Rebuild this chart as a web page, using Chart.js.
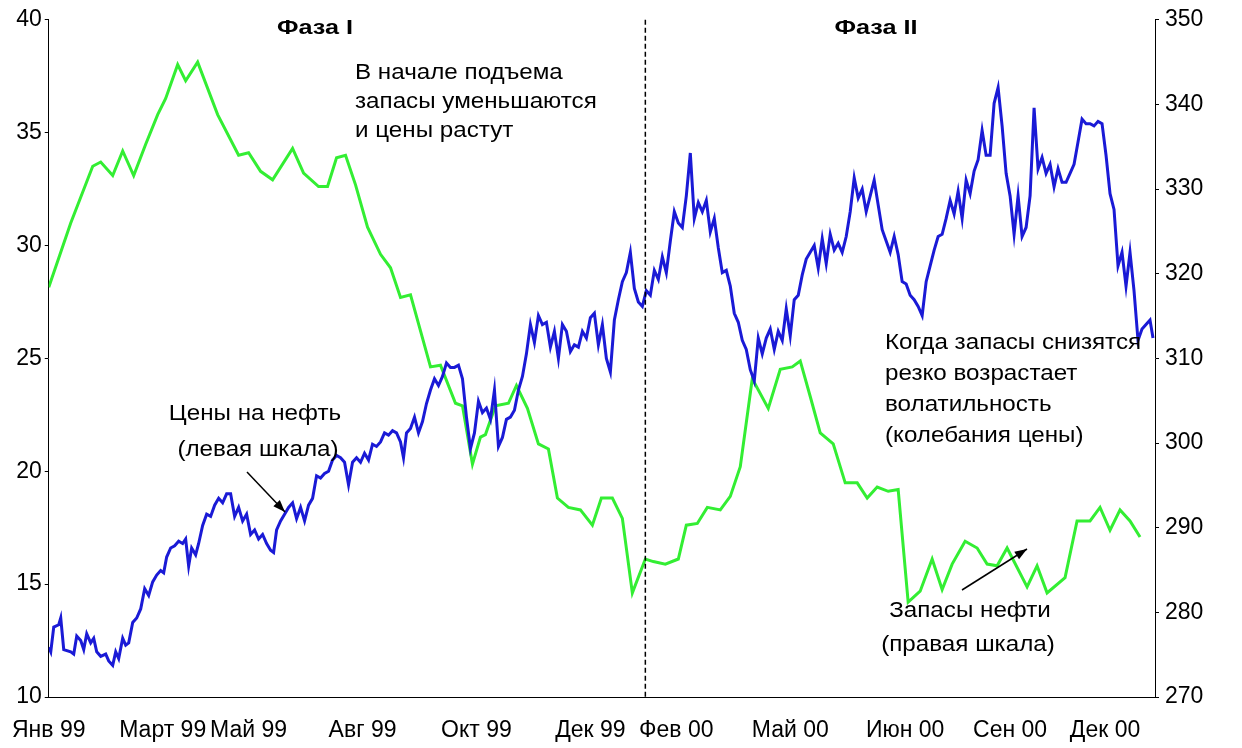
<!DOCTYPE html>
<html>
<head>
<meta charset="utf-8">
<script src="https://cdn.jsdelivr.net/npm/chart.js@4.4.0/dist/chart.umd.min.js"></script>
<style>
  html, body { margin: 0; padding: 0; background: #fff; }
  #wrap { width: 1242px; height: 748px; }
</style>
</head>
<body>
<div id="wrap"><canvas id="myChart"></canvas></div>
<script>
// time axis in trading-day steps (0 = Jan 99)
const tickPos = [0, 114, 200, 314, 428, 542, 628, 742, 857, 962, 1057];
const tickLabels = ["Янв 99", "Март 99", "Май 99", "Авг 99", "Окт 99", "Дек 99",
  "Фев 00", "Май 00", "Июн 00", "Сен 00", "Дек 00"];
const phaseSplit = 597;

// oil price, left scale
const priceT = [0,2,5,10,12,15,22,25,28,32,35,38,42,45,48,52,57,60,64,67,70,74,77,80,84,88,92,96,100,104,108,112,115,118,122,126,130,134,137,140,143,147,150,154,158,162,166,170,174,178,182,186,190,194,198,202,206,210,214,218,222,225,228,232,236,240,244,248,252,256,260,264,268,272,276,280,284,288,292,296,300,304,308,312,316,320,324,328,332,336,340,344,348,352,355,358,362,366,370,374,378,382,386,390,394,398,402,406,410,414,418,422,426,430,434,438,442,446,450,454,458,462,466,470,474,478,482,486,490,494,498,502,506,510,514,518,522,526,530,534,538,542,546,550,554,558,562,566,570,574,578,582,586,590,594,598,602,606,610,614,618,622,626,630,634,638,642,646,650,654,658,662,666,670,674,678,682,686,690,694,698,702,706,710,714,718,722,726,730,734,738,742,746,750,754,758,762,766,770,774,778,782,786,790,794,798,802,806,810,814,818,822,826,830,834,838,842,846,850,854,858,862,866,870,874,878,882,886,890,894,898,902,906,910,914,918,922,926,930,934,938,942,946,950,954,958,962,966,970,974,978,982,986,990,994,998,1002,1006,1010,1014,1018,1022,1026,1030,1034,1038,1042,1046,1050,1054,1058,1062,1066,1070,1074,1078,1082,1086,1090,1094,1098,1102,1105];
const priceVal = [12.2,12,13.1,13.2,13.5,12.1,12,11.9,12.7,12.5,12.1,12.8,12.4,12.6,12,11.8,11.9,11.6,11.4,12,11.7,12.6,12.3,12.4,13.3,13.5,13.9,14.8,14.5,15.1,15.4,15.6,15.5,16.2,16.6,16.7,16.9,16.8,17,15.8,16.6,16.3,16.8,17.6,18.1,18,18.5,18.8,18.6,19,19,18,18.4,17.8,18.1,17.2,17.4,17,17.2,16.8,16.5,16.4,17.4,17.8,18.1,18.4,18.6,17.9,18.4,17.8,18.5,18.8,19.8,19.7,19.9,20,20.5,20.7,20.6,20.4,19.4,20.4,20.6,20.4,20.8,20.5,21.2,21.1,21.3,21.7,21.6,21.8,21.7,21.3,20.6,21.7,21.9,22.4,21.7,22.2,23,23.6,24.1,23.8,24.2,24.8,24.6,24.6,24.7,24.1,22.4,21,21.7,23.1,22.6,22.8,22.3,23.6,21.1,21.5,22.3,22.4,22.7,23.6,24.2,25.2,26.5,25.7,26.9,26.5,26.6,25.5,26.2,25,26.5,26.2,25.3,25.6,25.5,26.2,25.9,26.8,27,25.6,26.5,25,24.4,26.7,27.6,28.4,28.8,29.7,28.1,27.5,27.3,28,27.8,28.9,28.5,29.5,28.8,30.2,31.5,31,30.8,32.2,34.1,31.2,31.9,31.5,32,30.6,31.2,29.9,28.8,28.9,28.2,27,26.6,25.8,25.4,24.5,24,25.9,25.2,25.9,26.3,25.4,26.2,25.8,27.2,26,27.6,27.8,28.7,29.4,29.7,30,29,30.3,29.2,30.5,29.8,30.1,29.7,30.4,31.5,33,32.1,32.5,31.5,32.2,32.9,31.8,30.7,30.2,29.7,30.4,29.6,28.4,28.3,27.8,27.6,27.3,26.9,28.4,29.1,29.8,30.4,30.5,31.2,32,31.4,32.4,31.2,32.9,32.3,33.3,33.8,35.1,34,34,36.3,37,35.3,33.2,32.2,30.5,32.2,30.4,30.8,32.2,36.1,33.4,33.9,33.2,33.6,32.6,33.4,32.8,32.8,33.2,33.6,34.6,35.6,35.4,35.4,35.3,35.5,35.4,34,32.3,31.6,29.1,29.7,28.2,29.7,28,25.8,26.3,26.5,26.7,25.9];

// oil stocks, right scale
const stockT = [0,22,44,52,64,74,85,97,109,117,129,137,149,169,190,200,212,224,244,255,270,279,288,297,307,319,332,342,352,362,382,392,407,414,424,432,437,447,460,468,479,490,500,509,520,532,544,553,564,574,584,597,605,617,630,638,649,659,672,682,692,704,720,732,744,752,762,772,785,797,809,819,829,840,850,860,872,884,894,904,917,929,939,949,959,979,989,999,1017,1029,1042,1052,1062,1072,1082,1092,1104];
const stockVal = [318.4,326,332.7,333.2,331.6,334.5,331.6,335.3,338.8,340.7,344.7,342.8,345,338.8,334,334.3,332.1,331.1,334.8,331.9,330.3,330.3,333.7,334,330.5,325.5,322.3,320.7,317.2,317.5,309,309.2,304.7,304.4,297.5,300.7,301,304.4,304.7,306.8,304.1,299.9,299.3,293.5,292.4,292.1,290.3,293.5,293.5,291.1,282.3,286.3,286,285.7,286.3,290.3,290.5,292.4,292.1,293.7,297.2,307.6,304.1,308.7,309,309.7,305.5,301.2,299.9,295.3,295.3,293.5,294.8,294.3,294.5,281.2,282.5,286.3,282.7,285.7,288.4,287.6,285.7,285.5,287.6,283,285.5,282.3,284.1,290.8,290.8,292.4,289.7,292.1,290.8,288.9];

const toXY = (t, v) => t.map((x, i) => ({ x: x, y: v[i] }));
const font = "Arial, 'Liberation Sans', sans-serif";

// Excel-like text: a little wider than the normal face
function wideText(c, s, x, y, sx) {
  c.save();
  c.translate(x, y);
  c.scale(sx, 1);
  c.fillText(s, 0, 0);
  c.restore();
}

const annotations = {
  id: "annotations",
  afterDraw(chart) {
    const c = chart.ctx;
    const xs = chart.scales.x;
    const area = chart.chartArea;
    c.save();
    // phase separator
    const px = xs.getPixelForValue(phaseSplit);
    c.strokeStyle = "#000";
    c.lineWidth = 1.5;
    c.setLineDash([5, 3]);
    c.beginPath();
    c.moveTo(px, area.top);
    c.lineTo(px, area.bottom);
    c.stroke();
    c.setLineDash([]);

    c.fillStyle = "#000";
    c.textBaseline = "middle";
    c.font = "bold 21px " + font;
    c.textAlign = "center";
    wideText(c, "Фаза I", 315, 28, 1.2);
    wideText(c, "Фаза II", 876, 28, 1.2);

    c.font = "22px " + font;
    c.textAlign = "left";
    ["В начале подъема", "запасы уменьшаются", "и цены растут"]
      .forEach((s, i) => wideText(c, s, 355, 73 + i * 29, 1.1));
    ["Когда запасы снизятся", "резко возрастает", "волатильность", "(колебания цены)"]
      .forEach((s, i) => wideText(c, s, 885, 343 + i * 31, 1.1));
    c.textAlign = "center";
    wideText(c, "Цены на нефть", 255, 414, 1.1);
    wideText(c, "(левая шкала)", 258, 450, 1.1);
    wideText(c, "Запасы нефти", 970, 611, 1.1);
    wideText(c, "(правая шкала)", 968, 645, 1.1);

    const arrow = (x1, y1, x2, y2) => {
      c.lineWidth = 1.5;
      c.beginPath();
      c.moveTo(x1, y1);
      c.lineTo(x2, y2);
      c.stroke();
      const a = Math.atan2(y2 - y1, x2 - x1);
      c.beginPath();
      c.moveTo(x2, y2);
      c.lineTo(x2 - 13 * Math.cos(a - 0.35), y2 - 13 * Math.sin(a - 0.35));
      c.lineTo(x2 - 13 * Math.cos(a + 0.35), y2 - 13 * Math.sin(a + 0.35));
      c.closePath();
      c.fill();
    };
    arrow(247, 472, 285, 512);
    arrow(962, 590, 1027, 549);
    c.restore();
  },
};

new Chart(document.getElementById("myChart"), {
  type: "line",
  data: {
    datasets: [
      {
        label: "Цены на нефть",
        data: toXY(priceT, priceVal),
        borderColor: "#1a1ad6",
        borderWidth: 3,
        pointRadius: 0,
        tension: 0,
        yAxisID: "y",
      },
      {
        label: "Запасы нефти",
        data: toXY(stockT, stockVal),
        borderColor: "#33ee33",
        borderWidth: 3,
        pointRadius: 0,
        tension: 0,
        yAxisID: "y1",
      },
    ],
  },
  options: {
    responsive: true,
    maintainAspectRatio: false,
    animation: false,
    layout: { padding: { top: 8, right: 0, left: 0, bottom: 0 } },
    plugins: { legend: { display: false }, tooltip: { enabled: false } },
    scales: {
      x: {
        type: "linear",
        min: 0,
        max: 1107,
        border: { color: "#000", width: 1 },
        grid: { display: false },
        afterBuildTicks: (s) => { s.ticks = tickPos.map((v) => ({ value: v })); },
        afterFit: (s) => { s.height = 51; },
        ticks: {
          autoSkip: false,
          maxRotation: 0,
          padding: 12,
          color: "#000",
          font: { family: font, size: 23 },
          callback: (v) => tickLabels[tickPos.indexOf(v)],
        },
      },
      y: {
        position: "left",
        min: 10,
        max: 40,
        border: { color: "#000", width: 1 },
        grid: { drawOnChartArea: false, color: "#000", tickLength: 4 },
        afterFit: (s) => { s.width = 48; },
        ticks: { stepSize: 5, color: "#000", padding: 3, font: { family: font, size: 23 } },
      },
      y1: {
        position: "right",
        min: 270,
        max: 350,
        border: { color: "#000", width: 1 },
        grid: { drawOnChartArea: false, color: "#000", tickLength: 4 },
        afterFit: (s) => { s.width = 87; },
        ticks: { stepSize: 10, color: "#000", padding: 6, font: { family: font, size: 23 } },
      },
    },
  },
  plugins: [annotations],
});
</script>
</body>
</html>
